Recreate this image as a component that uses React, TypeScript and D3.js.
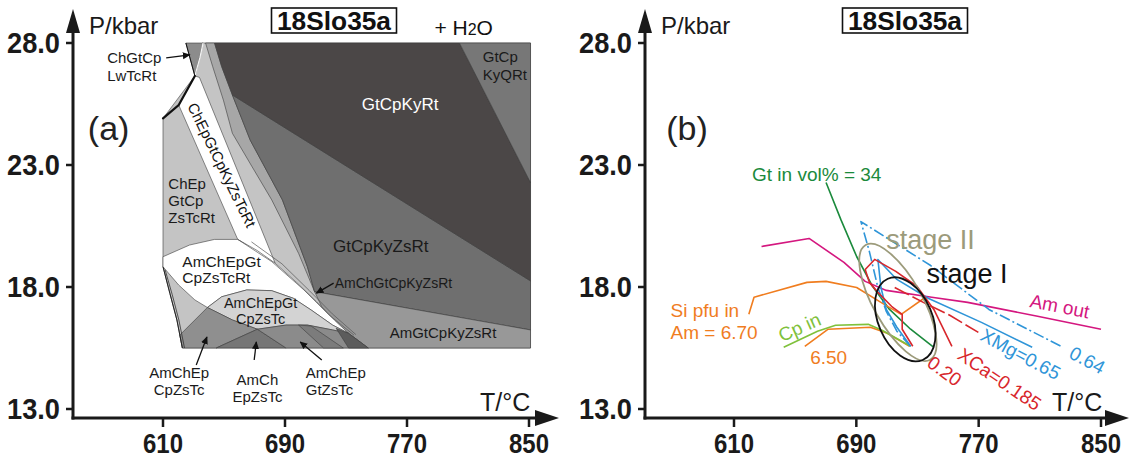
import React from 'react';
import * as d3 from 'd3';

type Pt = [number, number];

const tempTicks = [610, 690, 770, 850];
const presTicks = [13, 18, 23, 28];
const presTickLabels = ['13.0', '18.0', '23.0', '28.0'];
const sampleName = '18Slo35a';

// ---------- (a) pseudosection fields, points are [T °C, P kbar]
const fieldAll: Pt[] = [[610, 24.91], [630.9, 26.65], [635.6, 28], [851, 28], [851, 15.5], [622.7, 15.5], [619.1, 16.65], [614.5, 17.74], [610, 18.83]];
const stripInner: Pt[] = [[637.9, 28], [642.6, 27.03], [649.6, 25.66], [655.5, 24.3], [668.4, 22.93], [681.3, 21.57], [698.9, 19.38], [709.4, 17.81]];
const stripOuter: Pt[] = [[643.8, 28], [648.5, 27.03], [655.5, 25.87], [667.2, 24.02], [688.3, 21.57], [704.7, 18.83], [709.4, 17.81]];
const fieldGtCpKyZsRt: Pt[] = [[655.5, 25.87], [851, 18.25], [851, 16.24], [709.4, 17.81], [704.7, 18.83], [688.3, 21.57], [667.2, 24.02]];
const fieldGtCpKyRt: Pt[] = [[643.8, 28], [804.4, 28], [851, 22.28], [851, 18.25], [655.5, 25.87], [648.5, 27.03]];
const fieldGtCpKyQRt: Pt[] = [[804.4, 28], [851, 28], [851, 22.28]];
const fieldAmGtCpKyZsRt: Pt[] = [[709.4, 17.81], [851, 16.24], [851, 15.5], [744.6, 15.5], [731.7, 16.1], [721.2, 16.65], [714.1, 17.19]];
const fieldChGtCpLwTcRt: Pt[] = [[625, 28], [636.3, 28], [630.9, 26.65]];
const fieldChEpGtCpKyZsTcRt: Pt[] = [[620.3, 25.46], [630.9, 26.65], [633.9, 26.59], [683.6, 18.97], [659, 19.95]];
const fieldAmChEpGtCpZsTcRt: Pt[] = [[610, 19.24], [627.4, 19.72], [643.8, 19.95], [659, 19.95], [671.9, 19.49], [683.6, 18.97], [697.7, 18.18], [710.6, 17.4], [722.3, 16.65], [731.7, 16.1], [721.2, 16.44], [707.1, 17.06], [695.4, 17.54], [681.3, 17.85], [664.9, 17.88], [648.5, 17.6], [639.1, 17.16], [630.9, 17.47], [620.3, 18.08], [610, 18.83]];
const fieldAmChEpGtCpZsTc: Pt[] = [[639.1, 17.16], [648.5, 17.6], [664.9, 17.88], [681.3, 17.85], [695.4, 17.54], [707.1, 17.06], [721.2, 16.44], [731.7, 16.1], [721.2, 16.24], [704.7, 16.44], [690.7, 16.44], [671.9, 16.27], [655.5, 16.65]];
const fieldAmChEpCpZsTc: Pt[] = [[639.1, 17.16], [655.5, 16.65], [671.9, 16.27], [644.9, 15.5], [622.7, 15.5], [621, 16.03]];
const fieldAmChEpZsTc: Pt[] = [[644.9, 15.5], [671.9, 16.27], [690.7, 15.5]];
const fieldAmChEpGtZsTc: Pt[] = [[671.9, 16.27], [690.7, 16.44], [704.7, 16.44], [721.2, 16.24], [731.7, 16.1], [744.6, 15.5], [690.7, 15.5]];
const fieldStreak: Pt[] = [[698.9, 16.44], [707.1, 16.4], [728.2, 15.5], [715.3, 15.5]];
const fieldDarkBit: Pt[] = [[723.5, 16.31], [731.7, 16.1], [744.6, 15.5], [731.7, 15.5]];

const boundaryThick: Pt[] = [[610, 24.91], [620.3, 25.46], [630.9, 26.65]];
const boundaryWedge: Pt[] = [[630.9, 26.65], [625, 28]];
const boundaryWedgeLight: Pt[] = [[630.9, 26.65], [634.2, 27.4], [636.3, 28]];
const boundaryLeftLow: Pt[] = [[610, 18.83], [614.5, 17.74], [619.1, 16.65], [622.7, 15.5]];
const boundaryLeftLow2: Pt[] = [[611.4, 18.7], [616, 17.7], [620.4, 16.65], [624.1, 15.5]];
const boundaryStripA: Pt[] = [[659, 19.95], [681.3, 19.04], [702.4, 17.88], [718.8, 16.86], [735.2, 16.03]];
const boundaryStripB: Pt[] = [[668, 19.85], [688, 18.95], [706, 17.85], [721, 16.9], [736.5, 16.05]];

const fieldLayers = [
  { key: 'all', pts: fieldAll },
  { key: 'strip', pts: stripInner.concat(stripOuter.slice(0, -1).reverse()) },
  { key: 'GtCpKyZsRt', pts: fieldGtCpKyZsRt },
  { key: 'GtCpKyRt', pts: fieldGtCpKyRt },
  { key: 'GtCpKyQRt', pts: fieldGtCpKyQRt },
  { key: 'AmGtCpKyZsRt', pts: fieldAmGtCpKyZsRt },
  { key: 'ChGtCpLwTcRt', pts: fieldChGtCpLwTcRt },
  { key: 'ChEpGtCpKyZsTcRt', pts: fieldChEpGtCpKyZsTcRt },
  { key: 'AmChEpGtCpZsTcRt', pts: fieldAmChEpGtCpZsTcRt },
  { key: 'AmChEpGtCpZsTc', pts: fieldAmChEpGtCpZsTc },
  { key: 'AmChEpCpZsTc', pts: fieldAmChEpCpZsTc },
  { key: 'AmChEpZsTc', pts: fieldAmChEpZsTc },
  { key: 'AmChEpGtZsTc', pts: fieldAmChEpGtZsTc },
  { key: 'streak', pts: fieldStreak },
  { key: 'darkbit', pts: fieldDarkBit },
];
const fieldFill: Record<string, string> = {
  all: '#c4c4c4', strip: '#a7a7a7', GtCpKyZsRt: '#6f6f6f', GtCpKyRt: '#4b4747', GtCpKyQRt: '#777777',
  AmGtCpKyZsRt: '#989898', ChGtCpLwTcRt: '#8c8c8c', ChEpGtCpKyZsTcRt: '#ffffff', AmChEpGtCpZsTcRt: '#ffffff',
  AmChEpGtCpZsTc: '#d3d3d3', AmChEpCpZsTc: '#8f8f8f', AmChEpZsTc: '#767676', AmChEpGtZsTc: '#8b8b8b',
  streak: '#7c7c7c', darkbit: '#5c5c5c',
};

// ---------- (a) labels
const labelsA = [
  { lines: ['ChGtCp', 'LwTcRt'], T: 573.4, P: [27.18, 26.44], anchor: 'start', size: 15, color: '#1a1a1a' },
  { lines: ['ChEp', 'GtCp', 'ZsTcRt'], T: 613.5, P: [22.02, 21.32, 20.62], anchor: 'start', size: 15, color: '#1a1a1a' },
  { lines: ['GtCpKyRt'], T: 765.5, P: [25.26], anchor: 'middle', size: 17, color: '#ffffff' },
  { lines: ['GtCp', 'KyQRt'], T: 819.7, P: [27.22, 26.48], anchor: 'start', size: 15, color: '#1a1a1a' },
  { lines: ['GtCpKyZsRt'], T: 752.8, P: [19.44], anchor: 'middle', size: 17, color: '#1a1a1a' },
  { lines: ['AmChGtCpKyZsRt'], T: 722.6, P: [17.96], anchor: 'start', size: 14, color: '#1a1a1a' },
  { lines: ['AmChEpGt', 'CpZsTcRt'], T: 622.7, P: [18.82, 18.16], anchor: 'start', size: 15.5, color: '#1a1a1a' },
  { lines: ['AmChEpGt', 'CpZsTc'], T: 674, P: [17.14, 16.48], anchor: 'middle', size: 14.5, color: '#1a1a1a' },
  { lines: ['AmGtCpKyZsRt'], T: 793.6, P: [15.91], anchor: 'middle', size: 15, color: '#1a1a1a' },
  { lines: ['AmChEp', 'CpZsTc'], T: 620.6, P: [14.27, 13.57], anchor: 'middle', size: 15, color: '#1a1a1a' },
  { lines: ['AmCh', 'EpZsTc'], T: 671.9, P: [13.98, 13.29], anchor: 'middle', size: 15, color: '#1a1a1a' },
  { lines: ['AmChEp', 'GtZsTc'], T: 703.6, P: [14.27, 13.57], anchor: 'start', size: 15, color: '#1a1a1a' },
];
const arrowsA: Pt[][] = [
  [[612.1, 27.39], [627.6, 27.51]],
  [[721.9, 18.16], [710.6, 17.75]],
  [[631.8, 14.8], [638.8, 15.95]],
  [[669.8, 15.01], [671.2, 15.75]],
  [[714.1, 15.01], [700, 15.75]],
];
const bandLabel = { text: 'ChEpGtCpKyZsTcRt', T: 648.7, P: 23.0, angle: 64 };

// ---------- (b) isopleths, [T °C, P kbar]
const lineGtVol34: Pt[] = [[670.2, 22.28], [679.9, 20.76], [690.2, 19.25], [700.6, 18.03], [711.7, 17.08], [725.5, 16.27], [740.7, 15.53]];
const lineAmOut: Pt[] = [[628, 19.66], [659.1, 19.99], [681.9, 19.01], [695.8, 18.23], [709.6, 17.86], [739.3, 17.58], [762.8, 17.37], [808.5, 16.8], [850, 16.27]];
const lineSi670: Pt[] = [[619.7, 16.88], [623.1, 17.58], [657.7, 18.19], [670.2, 18.23], [690.2, 17.98], [706.1, 17.37], [719.3, 16.88], [735.2, 17.58]];
const lineSi650: Pt[] = [[656.3, 15.57], [671.6, 16.27], [699.2, 16.35], [710.3, 16.1], [724.8, 15.57]];
const lineCpIn: Pt[] = [[642.5, 15.53], [664.6, 16.19], [676.4, 16.43], [697.8, 16.47], [706.8, 16.23], [725.5, 15.57]];
const lineXMg065: Pt[] = [[725.5, 15.57], [716.5, 16.35], [709.6, 17.08], [706.1, 17.98], [704.1, 19.13], [716.5, 18.31], [737.3, 17.53], [771.8, 16.55], [805, 15.53]];
const lineXMg064: Pt[] = [[725.5, 15.57], [716.5, 16.19], [709.6, 17.0], [704.1, 17.98], [698.5, 19.46], [693, 20.68], [738.6, 18.88], [776.7, 17.08], [825.1, 15.53]];
const lineXCa020: Pt[] = [[726.9, 15.57], [720, 16.27], [720, 16.88], [713, 17.21], [704.1, 17.78], [698.5, 18.19], [695.8, 18.72], [702, 19.13], [715.8, 18.64], [729.6, 18.03], [740.7, 17.08], [752.5, 15.57]];
const lineXCa0185: Pt[] = [[715.1, 17.98], [733.8, 17.37], [751.1, 16.84], [769.8, 16.14]];

const isoLines = [
  { key: 'gt', pts: lineGtVol34 },
  { key: 'amout', pts: lineAmOut },
  { key: 'si670', pts: lineSi670 },
  { key: 'si650', pts: lineSi650 },
  { key: 'cp', pts: lineCpIn },
  { key: 'xmg065', pts: lineXMg065 },
  { key: 'xmg064', pts: lineXMg064 },
  { key: 'xca020', pts: lineXCa020 },
  { key: 'xca0185', pts: lineXCa0185 },
];
const isoStyle: Record<string, { c: string; dash?: string }> = {
  gt: { c: '#1b8a3c' }, amout: { c: '#d4177f' }, si670: { c: '#f07d1f' }, si650: { c: '#f07d1f' },
  cp: { c: '#7fc13b' }, xmg065: { c: '#2f95d8' }, xmg064: { c: '#2f95d8', dash: '11,3,2,3' },
  xca020: { c: '#d8272c' }, xca0185: { c: '#d8272c', dash: '16,4' },
};

// stage ellipses: major-axis ends [T,P] and minor/major ratio
const stageEllipses = [
  { key: 'II', a: [696.1, 19.72] as Pt, b: [738.3, 15.02] as Pt, ratio: 0.37, color: '#9c9b7b' },
  { key: 'I', a: [710.6, 18.34] as Pt, b: [733.4, 15.01] as Pt, ratio: 0.61, color: '#111111' },
];

const labelsB = [
  { text: 'Gt in vol% = 34', T: 621.8, P: 22.36, size: 19, color: '#1b8a3c' },
  { text: 'stage II', T: 709.6, P: 19.54, size: 27, color: '#9c9b7b' },
  { text: 'stage I', T: 735.9, P: 18.15, size: 27, color: '#111111' },
  { text: 'Si pfu in', T: 568.5, P: 16.76, size: 19, color: '#f07d1f' },
  { text: 'Am = 6.70', T: 568.5, P: 15.86, size: 19, color: '#f07d1f' },
  { text: '6.50', T: 659.8, P: 14.84, size: 19, color: '#f07d1f' },
];
const rotLabelsB = [
  { text: 'Am out', T: 823, P: 17.21, size: 19, color: '#d4177f', rot: 11 },
  { text: 'Cp in', T: 652.9, P: 16.35, size: 19, color: '#7fc13b', rot: -24 },
  { text: 'XMg=0.65', T: 797.4, P: 15.24, size: 19, color: '#2f95d8', rot: 28 },
  { text: '0.64', T: 841, P: 15.0, size: 19, color: '#2f95d8', rot: 28 },
  { text: '0.20', T: 747.6, P: 14.55, size: 19, color: '#d8272c', rot: 36 },
  { text: 'XCa=0.185', T: 783.6, P: 14.22, size: 19, color: '#d8272c', rot: 34 },
];

const FONT = '"Liberation Sans", Arial, Helvetica, sans-serif';
const xA = d3.scaleLinear().domain([610, 850]).range([163, 529]);
const xB = d3.scaleLinear().domain([610, 850]).range([734, 1101]);
const yP = d3.scaleLinear().domain([13, 28]).range([409, 43]);

function pathOf(xs: d3.ScaleLinear<number, number>, pts: Pt[], closed = false) {
  const g = d3.line<Pt>().x(d => xs(d[0])).y(d => yP(d[1]));
  return (g(pts) || '') + (closed ? 'Z' : '');
}

function Axes({ ax, xs, tip, tLabelX }: { ax: number; xs: d3.ScaleLinear<number, number>; tip: number; tLabelX: number }) {
  const ay = 418;
  const k = '#1a1a1a';
  return (
    <g>
      <line x1={ax} y1={ay + 1.5} x2={ax} y2={28} stroke={k} strokeWidth={3} />
      <polygon points={`${ax},9 ${ax - 7},33 ${ax + 7},33`} fill={k} />
      <line x1={ax - 1.5} y1={ay} x2={tip - 20} y2={ay} stroke={k} strokeWidth={3} />
      <polygon points={`${tip},${ay} ${tip - 24},${ay - 8} ${tip - 24},${ay + 8}`} fill={k} />
      {presTicks.map((p, i) => (
        <g key={p}>
          <line x1={ax - 7} x2={ax} y1={yP(p)} y2={yP(p)} stroke={k} strokeWidth={2.5} />
          <text x={ax - 13} y={yP(p) + 10} textAnchor="end" fontSize={29} fontWeight="bold" fill={k}
            textLength={53} lengthAdjust="spacingAndGlyphs">{presTickLabels[i]}</text>
        </g>
      ))}
      {tempTicks.map(t => (
        <g key={t}>
          <line x1={xs(t)} x2={xs(t)} y1={ay} y2={ay + 9} stroke={k} strokeWidth={2.5} />
          <text x={xs(t) - 20} y={453} fontSize={27} fontWeight="bold" fill={k}
            textLength={40} lengthAdjust="spacingAndGlyphs">{t}</text>
        </g>
      ))}
      <text x={ax + 16} y={34} fontSize={24} fill={k}>P/kbar</text>
      <text x={tLabelX} y={411} fontSize={25} fill={k}>T/°C</text>
    </g>
  );
}

function TitleBox({ cx }: { cx: number }) {
  return (
    <g>
      <rect x={cx - 62.5} y={8} width={125} height={25} fill="#fff" stroke="#111" strokeWidth={1.6} />
      <text x={cx - 57} y={30} fontSize={25} fontWeight="bold" fill="#111" textLength={114}
        lengthAdjust="spacingAndGlyphs">{sampleName}</text>
    </g>
  );
}

export default function App() {
  return (
    <svg width={1132} height={460} viewBox="0 0 1132 460"
      style={{ position: 'absolute', left: 0, top: 0, background: '#fff', fontFamily: FONT }}>
      <defs>
        <marker id="ah" viewBox="0 0 10 10" refX="9" refY="5" markerWidth="6" markerHeight="6" orient="auto">
          <path d="M0,0.5 L10,5 L0,9.5 z" fill="#111" />
        </marker>
      </defs>

      {/* ---------------- panel (a) ---------------- */}
      <g>
        {fieldLayers.map(f => (
          <path key={f.key} d={pathOf(xA, f.pts, true)} fill={fieldFill[f.key]} stroke="#3c3c3c" strokeWidth={0.6} strokeLinejoin="round" />
        ))}
        <path d={pathOf(xA, boundaryStripA)} fill="none" stroke="#555" strokeWidth={0.7} />
        <path d={pathOf(xA, boundaryStripB)} fill="none" stroke="#555" strokeWidth={0.7} />
        <path d={pathOf(xA, boundaryLeftLow2)} fill="none" stroke="#333" strokeWidth={0.8} />
        <path d={pathOf(xA, boundaryLeftLow)} fill="none" stroke="#222" strokeWidth={1} />
        <path d={pathOf(xA, boundaryWedgeLight)} fill="none" stroke="#f2f2f2" strokeWidth={1.3} />
        <path d={pathOf(xA, boundaryWedge)} fill="none" stroke="#111" strokeWidth={1} />
        <path d={pathOf(xA, boundaryThick)} fill="none" stroke="#111" strokeWidth={2.2} strokeLinecap="round" />

        {labelsA.map((l, i) => (
          <text key={i} fontSize={l.size} fill={l.color} textAnchor={l.anchor as any}>
            {l.lines.map((s, j) => (
              <tspan key={j} x={xA(l.T)} y={yP(l.P[j])}>{s}</tspan>
            ))}
          </text>
        ))}
        <text fontSize={15} fill="#111" textAnchor="middle" dominantBaseline="central"
          transform={`translate(${xA(bandLabel.T)},${yP(bandLabel.P)}) rotate(${bandLabel.angle})`}>{bandLabel.text}</text>
        {arrowsA.map((a, i) => (
          <line key={i} x1={xA(a[0][0])} y1={yP(a[0][1])} x2={xA(a[1][0])} y2={yP(a[1][1])}
            stroke="#111" strokeWidth={1.3} markerEnd="url(#ah)" />
        ))}
        <text x={xA(560.7)} y={yP(24.02)} fontSize={34} fill="#222">(a)</text>
        <text x={xA(788)} y={yP(28.33)} fontSize={21} fill="#111">+ H<tspan fontSize={16}>2</tspan>O</text>
        <Axes ax={73} xs={xA} tip={559} tLabelX={480} />
        <TitleBox cx={334} />
      </g>

      {/* ---------------- panel (b) ---------------- */}
      <g>
        {isoLines.map(l => (
          <path key={l.key} d={pathOf(xB, l.pts)} fill="none" stroke={isoStyle[l.key].c}
            strokeDasharray={isoStyle[l.key].dash} strokeWidth={1.6} strokeLinejoin="round" />
        ))}
        {stageEllipses.map(e => {
          const x1 = xB(e.a[0]), y1 = yP(e.a[1]), x2 = xB(e.b[0]), y2 = yP(e.b[1]);
          const cx = (x1 + x2) / 2, cy = (y1 + y2) / 2;
          const rx = Math.hypot(x2 - x1, y2 - y1) / 2;
          const ang = (Math.atan2(y2 - y1, x2 - x1) * 180) / Math.PI;
          return (
            <ellipse key={e.key} cx={cx} cy={cy} rx={rx} ry={rx * e.ratio} fill="none" stroke={e.color}
              strokeWidth={1.8} transform={`rotate(${ang} ${cx} ${cy})`} />
          );
        })}
        {labelsB.map((l, i) => (
          <text key={i} x={xB(l.T)} y={yP(l.P)} fontSize={l.size} fill={l.color}>{l.text}</text>
        ))}
        {rotLabelsB.map((l, i) => (
          <text key={i} fontSize={l.size} fill={l.color} textAnchor="middle" dominantBaseline="central"
            transform={`translate(${xB(l.T)},${yP(l.P)}) rotate(${l.rot})`}>{l.text}</text>
        ))}
        <text x={xB(565.7)} y={yP(24.02)} fontSize={34} fill="#222">(b)</text>
        <Axes ax={645} xs={xB} tip={1129} tLabelX={1052} />
        <TitleBox cx={905} />
      </g>
    </svg>
  );
}
